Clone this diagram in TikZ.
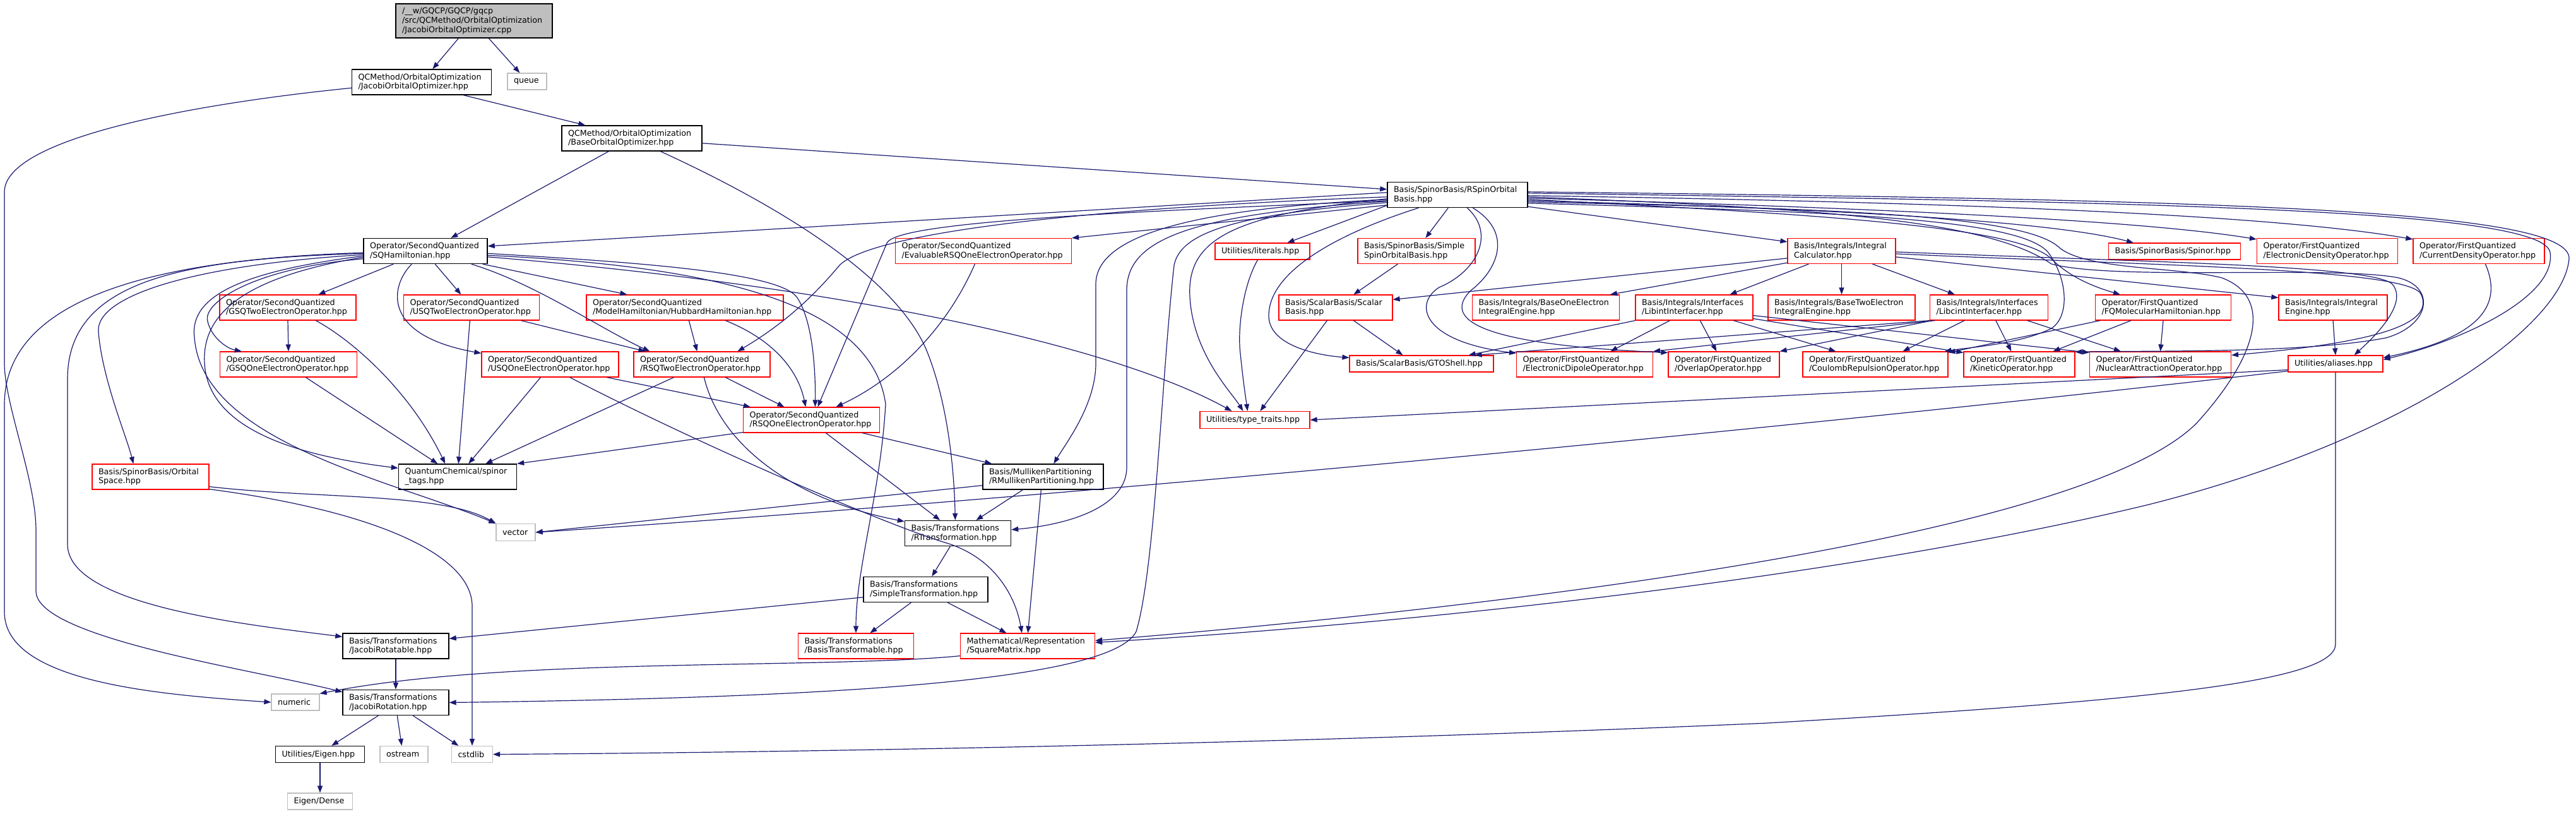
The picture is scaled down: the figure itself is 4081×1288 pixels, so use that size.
\documentclass[tikz,border=0pt]{standalone}
\usepackage{fontspec}
\setmainfont{DejaVu Sans}
\usetikzlibrary{arrows.meta,calc}
\definecolor{edgec}{HTML}{191970}
\definecolor{sysg}{HTML}{BFBFBF}
\definecolor{rb}{HTML}{FF0000}
\newcommand{\gfont}{\fontsize{12.7pt}{14.8pt}\selectfont\hyphenpenalty=10000\exhyphenpenalty=10000\relax}
\tikzset{
  nbase/.style={rectangle, inner xsep=10pt, inner ysep=0pt, minimum height=40pt, align=left, font=\gfont, text=black},
  kbox/.style={nbase, draw=black, line width=1.4pt},
  rbox/.style={nbase, draw=rb, line width=1.2pt},
  gbox/.style={nbase, draw=sysg, line width=1.2pt},
  dep/.style={draw=edgec, line width=1.2pt, -{Triangle[length=11pt,width=8pt]}},
}
\begin{document}
\begin{tikzpicture}[x=1pt,y=-1pt]
\fill[white] (0,0) rectangle (4081,1288);
\useasboundingbox (0,0) rectangle (4081,1288);
% ---------- nodes ----------
\node[kbox, fill=sysg, text width=228pt, minimum height=54pt] (root) at (751,33) {/\_\_w/GQCP/GQCP/gqcp\par /src/QCMethod/OrbitalOptimization\par\centering /JacobiOrbitalOptimizer.cpp};
\node[kbox, text width=201pt] (joo) at (668,130) {QCMethod/OrbitalOptimization\par\centering /JacobiOrbitalOptimizer.hpp};
\node[gbox, text width=42pt, minimum height=26pt] (queue) at (835,129) {\centering queue};
\node[kbox, text width=202pt] (boo) at (1001,219) {QCMethod/OrbitalOptimization\par\centering /BaseOrbitalOptimizer.hpp};
\node[kbox, text width=202pt] (rsob) at (2309,308.5) {Basis/SpinorBasis/RSpinOrbital\par\centering Basis.hpp};
\node[kbox, text width=176pt] (sqh) at (674,397.5) {Operator/SecondQuantized\par\centering /SQHamiltonian.hpp};
\node[rbox, text width=259pt] (evalrsq) at (1558,397.5) {Operator/SecondQuantized\par\centering /EvaluableRSQOneElectronOperator.hpp};
\node[rbox, text width=130pt, minimum height=26pt] (literals) at (2000,398) {\centering Utilities/literals.hpp};
\node[rbox, text width=166pt] (ssob) at (2244,397.5) {Basis/SpinorBasis/Simple\par\centering SpinOrbitalBasis.hpp};
\node[rbox, text width=151pt] (intcalc) at (2917.5,397.5) {Basis/Integrals/Integral\par\centering Calculator.hpp};
\node[rbox, text width=189pt, minimum height=26pt] (spinor) at (3445,398) {\centering Basis/SpinorBasis/Spinor.hpp};
\node[rbox, text width=203pt] (elecdens) at (3687,397.5) {Operator/FirstQuantized\par\centering /ElectronicDensityOperator.hpp};
\node[rbox, text width=188pt] (curdens) at (3927,397.5) {Operator/FirstQuantized\par\centering /CurrentDensityOperator.hpp};
\node[rbox, text width=196pt] (gsq2) at (456,487) {Operator/SecondQuantized\par\centering /GSQTwoElectronOperator.hpp};
\node[rbox, text width=195pt] (usq2) at (747,487) {Operator/SecondQuantized\par\centering /USQTwoElectronOperator.hpp};
\node[rbox, text width=292pt] (hubbard) at (1085,487) {Operator/SecondQuantized\par\centering /ModelHamiltonian/HubbardHamiltonian.hpp};
\node[rbox, text width=160pt] (scalarbasis) at (2116,487) {Basis/ScalarBasis/Scalar\par\centering Basis.hpp};
\node[rbox, text width=213pt] (base1eng) at (2449,487) {Basis/Integrals/BaseOneElectron\par\centering IntegralEngine.hpp};
\node[rbox, text width=166pt] (libint) at (2684,487) {Basis/Integrals/Interfaces\par\centering /LibintInterfacer.hpp};
\node[rbox, text width=213pt] (base2eng) at (2917.5,487) {Basis/Integrals/BaseTwoElectron\par\centering IntegralEngine.hpp};
\node[rbox, text width=167pt] (libcint) at (3151,487) {Basis/Integrals/Interfaces\par\centering /LibcintInterfacer.hpp};
\node[rbox, text width=195pt] (fqmol) at (3427,487) {Operator/FirstQuantized\par\centering /FQMolecularHamiltonian.hpp};
\node[rbox, text width=152pt] (inteng) at (3696,487) {Basis/Integrals/Integral\par\centering Engine.hpp};
\node[rbox, text width=197pt] (gsq1) at (457,577) {Operator/SecondQuantized\par\centering /GSQOneElectronOperator.hpp};
\node[rbox, text width=197pt] (usq1) at (871.5,577) {Operator/SecondQuantized\par\centering /USQOneElectronOperator.hpp};
\node[rbox, text width=196pt] (rsq2) at (1112,577) {Operator/SecondQuantized\par\centering /RSQTwoElectronOperator.hpp};
\node[rbox, text width=208pt, minimum height=26pt] (gto) at (2252,576) {\centering Basis/ScalarBasis/GTOShell.hpp};
\node[rbox, text width=196pt] (dipole) at (2510.5,577) {Operator/FirstQuantized\par\centering /ElectronicDipoleOperator.hpp};
\node[rbox, text width=156pt] (overlap) at (2731,577) {Operator/FirstQuantized\par\centering /OverlapOperator.hpp};
\node[rbox, text width=210pt] (coulomb) at (2971,577) {Operator/FirstQuantized\par\centering /CoulombRepulsionOperator.hpp};
\node[rbox, text width=156pt] (kinetic) at (3199,577) {Operator/FirstQuantized\par\centering /KineticOperator.hpp};
\node[rbox, text width=204pt] (nuclear) at (3422.5,577) {Operator/FirstQuantized\par\centering /NuclearAttractionOperator.hpp};
\node[rbox, text width=130pt, minimum height=26pt] (aliases) at (3700,576) {\centering Utilities/aliases.hpp};
\node[rbox, text width=196pt] (rsq1) at (1285.5,665) {Operator/SecondQuantized\par\centering /RSQOneElectronOperator.hpp};
\node[rbox, text width=154pt, minimum height=27pt] (typetraits) at (1988,665) {\centering Utilities/type\_traits.hpp};
\node[rbox, text width=165pt] (orbspace) at (238.5,755) {Basis/SpinorBasis/Orbital\par\centering Space.hpp};
\node[kbox, text width=167pt] (spinortags) at (725,755) {QuantumChemical/spinor\par\centering \_tags.hpp};
\node[kbox, text width=171pt] (mulliken) at (1652.5,755) {Basis/MullikenPartitioning\par\centering /RMullikenPartitioning.hpp};
\node[gbox, text width=42pt, minimum height=27pt] (vector) at (817,843) {\centering vector};
\node[kbox, text width=148pt] (rtrans) at (1517.5,844.5) {Basis/Transformations\par\centering /RTransformation.hpp};
\node[kbox, text width=177pt] (simpletrans) at (1466.5,933.5) {Basis/Transformations\par\centering /SimpleTransformation.hpp};
\node[kbox, text width=148pt] (jrotatable) at (627,1023) {Basis/Transformations\par\centering /JacobiRotatable.hpp};
\node[rbox, text width=163pt] (btransformable) at (1356,1023) {Basis/Transformations\par\centering /BasisTransformable.hpp};
\node[rbox, text width=193pt] (squarematrix) at (1628,1023) {Mathematical/Representation\par\centering /SquareMatrix.hpp};
\node[gbox, text width=56pt, minimum height=26pt] (numeric) at (468,1112) {\centering numeric};
\node[kbox, text width=148pt] (jrotation) at (627,1112.5) {Basis/Transformations\par\centering /JacobiRotation.hpp};
\node[kbox, text width=121pt, minimum height=26pt] (eigenhpp) at (507,1194.5) {\centering Utilities/Eigen.hpp};
\node[gbox, text width=56pt, minimum height=26pt] (ostream) at (640,1194.5) {\centering ostream};
\node[gbox, text width=45pt, minimum height=26pt] (cstdlib) at (748,1194.5) {\centering cstdlib};
\node[gbox, text width=83pt, minimum height=26pt] (eigendense) at (507,1269) {\centering Eigen/Dense};
% ---------- edges ----------
\draw[dep] ($(root.south west)+(100,0)$) -- ($(joo.north west)+(128.5,0)$);
\draw[dep] ($(root.south west)+(148,0)$) -- ($(queue.north west)+(20,0)$);
\draw[dep] ($(joo.south west)+(177.5,0)$) -- ($(boo.north west)+(38,0)$);
\draw[dep] ($(joo.north west)+(0,30)$) .. controls (300,165) and (7,220) .. (7,304) -- (7,575) .. controls (7,640) and (57,760) .. (57,840) -- (57,936) .. controls (57,1010) and (400,1060) .. ($(jrotation.north west)+(0,4)$);
\draw[dep] ($(sqh.north west)+(0,23.5)$) .. controls (250,410) and (7,470) .. (7,641) -- (7,969) .. controls (7,1080) and (250,1100) .. (numeric.west);
\draw[dep] ($(sqh.north west)+(0,24.5)$) .. controls (300,410) and (107,440) .. (107,600) -- (107,862) .. controls (107,960) and (400,990) .. ($(jrotatable.north west)+(0,6)$);
\draw[dep] ($(sqh.north west)+(0,26.5)$) .. controls (300,420) and (150,470) .. (156,526) .. controls (162,600) and (200,690) .. ($(orbspace.north west)+(66,0)$);
\draw[dep] ($(sqh.north west)+(0,28.5)$) .. controls (380,430) and (300,470) .. (308,534) .. controls (320,700) and (620,760) .. (vector.north west);
\draw[dep] ($(sqh.north west)+(0,30.5)$) .. controls (380,440) and (320,500) .. (324,575) .. controls (330,690) and (500,725) .. ($(spinortags.north west)+(0,7)$);
\draw[dep] ($(sqh.north west)+(0,33)$) .. controls (400,425) and (320,480) .. (329,509) .. controls (335,535) and (360,552) .. ($(gsq1.north west)+(35,0)$);
\draw[dep] ($(sqh.south west)+(48,0)$) -- ($(gsq2.north west)+(157,0)$);
\draw[dep] ($(sqh.south west)+(114,0)$) -- ($(usq2.north west)+(91.5,0)$);
\draw[dep] ($(sqh.south west)+(77,0)$) .. controls (620,450) and (600,530) .. ($(usq1.north west)+(0,3)$);
\draw[dep] ($(sqh.south west)+(171.5,0)$) .. controls (850,450) and (950,520) .. ($(rsq2.north west)+(26,0)$);
\draw[dep] ($(sqh.south east)+(-8,0)$) -- ($(hubbard.north west)+(65,0)$);
\draw[dep] ($(sqh.north east)+(0,24.5)$) .. controls (1000,415) and (1230,430) .. (1262,470) .. controls (1290,510) and (1292,600) .. ($(rsq1.north west)+(114.5,0)$);
\draw[dep] ($(sqh.north east)+(0,27.5)$) .. controls (1100,420) and (1380,470) .. (1403,640) .. controls (1395,780) and (1356,900) .. (btransformable.north);
\draw[dep] ($(sqh.north east)+(0,30)$) .. controls (1300,450) and (1750,540) .. ($(typetraits.north west)+(51,0)$);
\draw[dep] ($(boo.south west)+(75,0)$) -- ($(sqh.north west)+(139,0)$);
\draw[dep] ($(boo.north east)+(0,28.5)$) -- ($(rsob.north west)+(0,12)$);
\draw[dep] ($(boo.south west)+(157,0)$) .. controls (1200,310) and (1420,430) .. (1470,560) .. controls (1505,650) and (1512,760) .. ($(rtrans.north west)+(80.5,0)$);
% RSOB
\draw[dep] ($(rsob.north west)+(0,17)$) -- ($(sqh.north east)+(0,13)$);
\draw[dep] ($(rsob.north west)+(0,37)$) -- (evalrsq.north east);
\draw[dep] ($(rsob.south west)+(0,-4)$) -- ($(literals.north west)+(115,0)$);
\draw[dep] ($(rsob.south west)+(97,0)$) -- ($(ssob.north west)+(108,0)$);
\draw[dep] ($(rsob.south east)+(0,-2)$) -- ($(intcalc.north west)+(0,6)$);
\draw[dep] ($(rsob.south west)+(50,0)$) .. controls (2150,360) and (2010,420) .. (2010,500) .. controls (2010,545) and (2080,562) .. ($(gto.north west)+(0,4)$);
\draw[dep] ($(rsob.north west)+(0,27)$) .. controls (1950,340) and (1880,380) .. (1885,470) .. controls (1890,560) and (1950,620) .. ($(typetraits.north west)+(69,0)$);
\draw[dep] ($(rsob.north west)+(0,24)$) .. controls (1700,330) and (1380,370) .. (1330,420) .. controls (1280,480) and (1230,520) .. ($(rsq2.north west)+(165,0)$);
\draw[dep] ($(rsob.north west)+(0,30)$) .. controls (1800,335) and (1420,350) .. (1405,385) -- ($(rsq1.north west)+(118.5,0)$);
\draw[dep] ($(rsob.north west)+(0,28)$) .. controls (1900,330) and (1736,370) .. (1736,450) -- (1736,575) .. controls (1736,640) and (1690,700) .. ($(mulliken.north west)+(113,0)$);
\draw[dep] ($(rsob.north west)+(0,31)$) .. controls (1880,340) and (1785,380) .. (1785,460) -- (1785,740) .. controls (1785,800) and (1700,830) .. ($(rtrans.north east)+(0,15)$);
\draw[dep] ($(rsob.north west)+(0,33)$) .. controls (1950,340) and (1870,370) .. (1860,420) .. controls (1840,600) and (1830,900) .. (1800,1000) .. controls (1760,1080) and (1300,1105) .. (jrotation.east);
\draw[dep] ($(rsob.north east)+(0,32)$) .. controls (2900,330) and (3200,340) .. (3260,390) .. controls (3300,428) and (3450,422) .. (3520,440) .. controls (3600,470) and (3580,560) .. (3480,670) .. controls (3300,850) and (2400,960) .. ($(squarematrix.north east)+(0,12)$);
\draw[dep] ($(rsob.north east)+(0,16)$) .. controls (3500,316) and (4075,330) .. (4070,410) .. controls (4060,520) and (3800,700) .. (3400,800) .. controls (2900,920) and (2200,990) .. ($(squarematrix.north east)+(0,15)$);
\draw[dep] ($(rsob.north east)+(0,30)$) .. controls (2900,330) and (3250,350) .. ($(spinor.north west)+(40,0)$);
\draw[dep] ($(rsob.north east)+(0,26)$) .. controls (3000,330) and (3400,350) .. ($(elecdens.north west)+(0,2)$);
\draw[dep] ($(rsob.north east)+(0,22)$) .. controls (3100,320) and (3600,340) .. ($(curdens.north west)+(0,2)$);
\draw[dep] ($(rsob.north east)+(0,18)$) .. controls (3400,320) and (4030,330) .. (4040,400) .. controls (4050,470) and (3900,540) .. ($(aliases.north east)+(0,7)$);
\draw[dep] ($(rsob.north east)+(0,28)$) .. controls (2900,340) and (3200,360) .. (3250,410) .. controls (3280,440) and (3320,455) .. ($(fqmol.north west)+(40,0)$);
\draw[dep] ($(rsob.north east)+(0,34)$) .. controls (2900,335) and (3200,345) .. (3245,400) .. controls (3275,440) and (3280,500) .. (3250,520) .. controls (3200,545) and (3120,550) .. ($(coulomb.north east)+(-6,0)$);
\draw[dep] ($(rsob.north east)+(0,24)$) .. controls (2900,330) and (3150,350) .. (3250,418) .. controls (3350,445) and (3700,420) .. (3800,440) .. controls (3860,455) and (3850,515) .. (3780,535) .. controls (3650,560) and (3400,555) .. ($(kinetic.north east)+(0,1)$);
\draw[dep] ($(rsob.south west)+(127,0)$) .. controls (2370,370) and (2340,430) .. (2280,455) .. controls (2240,480) and (2250,540) .. ($(dipole.north west)+(0,3)$);
\draw[dep] ($(rsob.south west)+(136,0)$) .. controls (2400,370) and (2370,430) .. (2330,460) .. controls (2290,500) and (2320,545) .. ($(overlap.north west)+(0,2)$);
% Integral calculator
\draw[dep] ($(intcalc.north west)+(0,32)$) -- ($(scalarbasis.north east)+(0,8)$);
\draw[dep] ($(intcalc.south west)+(0,-2)$) -- ($(base1eng.north west)+(219,0)$);
\draw[dep] ($(intcalc.south west)+(34,0)$) -- ($(libint.north west)+(150,0)$);
\draw[dep] (intcalc.south) -- (base2eng.north);
\draw[dep] ($(intcalc.south west)+(135,0)$) -- ($(libcint.north west)+(40,0)$);
\draw[dep] ($(intcalc.north east)+(0,30)$) -- ($(inteng.north west)+(0,5)$);
\draw[dep] ($(intcalc.north east)+(0,22)$) .. controls (3400,415) and (3760,420) .. (3790,450) .. controls (3815,480) and (3765,530) .. ($(aliases.north east)+(-46,0)$);
\draw[dep] ($(intcalc.north east)+(0,25)$) .. controls (3400,420) and (3810,425) .. (3835,465) .. controls (3855,505) and (3800,540) .. ($(nuclear.north east)+(0,6)$);
% Libint / Libcint
\draw[dep] (libint.south west) -- ($(gto.north east)+(-40,0)$);
\draw[dep] ($(libint.south west)+(55,0)$) -- ($(dipole.north west)+(149.5,0)$);
\draw[dep] ($(libint.south west)+(103,0)$) -- ($(overlap.north west)+(77,0)$);
\draw[dep] ($(libint.south west)+(156,0)$) -- ($(coulomb.north west)+(53,0)$);
\draw[dep] ($(libint.south east)+(0,-3)$) -- ($(kinetic.north west)+(0,2)$);
\draw[dep] ($(libint.south east)+(0,-8)$) -- ($(nuclear.north west)+(0,2)$);
\draw[dep] (libcint.south west) -- ($(gto.north east)+(-30,0)$);
\draw[dep] ($(libcint.south west)+(8,0)$) -- (dipole.north east);
\draw[dep] ($(libcint.south west)+(4,0)$) -- (overlap.north east);
\draw[dep] ($(libcint.south west)+(55,0)$) -- ($(coulomb.north west)+(159,0)$);
\draw[dep] ($(libcint.south west)+(105,0)$) -- ($(kinetic.north west)+(76,0)$);
\draw[dep] ($(libcint.south west)+(155,0)$) -- ($(nuclear.north west)+(50,0)$);
\draw[dep] ($(fqmol.south west)+(8,0)$) -- ($(coulomb.north east)+(0,2)$);
\draw[dep] ($(fqmol.south west)+(57,0)$) -- ($(kinetic.north west)+(142,0)$);
\draw[dep] (fqmol.south) -- (nuclear.north);
\draw[dep] (inteng.south) -- (aliases.north);
\draw[dep] ($(curdens.south west)+(115,0)$) .. controls (3960,470) and (3950,530) .. ($(aliases.north east)+(0,4)$);
\draw[dep] ($(scalarbasis.south west)+(119,0)$) -- ($(gto.north west)+(85,0)$);
\draw[dep] ($(scalarbasis.south west)+(77,0)$) -- ($(typetraits.north west)+(96,0)$);
\draw[dep] ($(ssob.south west)+(64,0)$) -- ($(scalarbasis.north west)+(119,0)$);
\draw[dep] ($(literals.south west)+(68,0)$) .. controls (1970,450) and (1960,520) .. (1965,560) .. controls (1970,610) and (1975,640) .. ($(typetraits.north west)+(76,0)$);
\draw[dep] ($(aliases.south west)+(0,-4)$) -- (typetraits.east);
\draw[dep] ($(aliases.south west)+(0,-2)$) .. controls (3000,660) and (1800,780) .. (vector.east);
\draw[dep] (aliases.south) -- (3700,1020) .. controls (3700,1080) and (3400,1110) .. (2800,1145) .. controls (2000,1180) and (1200,1192) .. (cstdlib.east);
% second quantized block
\draw[dep] (gsq2.south) -- (gsq1.north);
\draw[dep] ($(gsq2.south west)+(153,0)$) .. controls (560,540) and (650,620) .. ($(spinortags.north west)+(74.5,0)$);
\draw[dep] ($(gsq1.south west)+(136.5,0)$) -- ($(spinortags.north west)+(62.5,0)$);
\draw[dep] ($(usq2.south west)+(105.5,0)$) -- ($(spinortags.north west)+(95.5,0)$);
\draw[dep] ($(usq2.south west)+(186.5,0)$) -- ($(rsq2.north west)+(19,0)$);
\draw[dep] ($(usq1.south west)+(94,0)$) -- ($(spinortags.north west)+(111.5,0)$);
\draw[dep] ($(usq1.south east)+(-19,0)$) -- ($(rsq1.north west)+(12,0)$);
\draw[dep] ($(usq1.south west)+(140.5,0)$) .. controls (1100,700) and (1400,830) .. (1500,860) .. controls (1580,885) and (1610,950) .. ($(squarematrix.north west)+(98,0)$);
\draw[dep] ($(rsq2.south west)+(64,0)$) -- ($(spinortags.north east)+(-50,0)$);
\draw[dep] ($(rsq2.south west)+(146,0)$) -- ($(rsq1.north west)+(65.5,0)$);
\draw[dep] ($(rsq2.south west)+(112,0)$) .. controls (1140,700) and (1250,790) .. ($(rtrans.north west)+(0,2)$);
\draw[dep] ($(hubbard.south west)+(163,0)$) -- ($(rsq2.north west)+(101,0)$);
\draw[dep] ($(hubbard.south west)+(221,0)$) .. controls (1230,540) and (1265,590) .. ($(rsq1.north west)+(99.5,0)$);
\draw[dep] ($(rsq1.south west)+(0,-1)$) -- (spinortags.north east);
\draw[dep] ($(rsq1.south east)+(-28,0)$) -- ($(mulliken.north west)+(15,0)$);
\draw[dep] ($(rsq1.south west)+(131.5,0)$) -- ($(rtrans.north west)+(56.5,0)$);
\draw[dep] ($(evalrsq.south west)+(126.5,0)$) .. controls (1500,520) and (1420,600) .. ($(rsq1.north west)+(147.5,0)$);
\draw[dep] ($(mulliken.south west)+(0,-7)$) -- (vector.east);
\draw[dep] ($(mulliken.south west)+(64,0)$) -- ($(rtrans.north west)+(113.5,0)$);
\draw[dep] ($(mulliken.south west)+(93,0)$) -- ($(squarematrix.north west)+(107.5,0)$);
\draw[dep] ($(rtrans.south west)+(72.5,0)$) -- ($(simpletrans.north west)+(109,0)$);
\draw[dep] ($(simpletrans.south west)+(76,0)$) -- ($(btransformable.north west)+(114.5,0)$);
\draw[dep] ($(simpletrans.south west)+(134,0)$) -- ($(squarematrix.north west)+(73.5,0)$);
\draw[dep] ($(simpletrans.north west)+(0,33)$) -- ($(jrotatable.north east)+(0,9)$);
\draw[dep] (jrotatable.south) -- (jrotation.north);
\draw[dep] ($(jrotation.south west)+(57,0)$) -- ($(eigenhpp.north west)+(89.5,0)$);
\draw[dep] ($(jrotation.south west)+(87,0)$) -- ($(ostream.north west)+(35,0)$);
\draw[dep] ($(jrotation.south west)+(112,0)$) -- ($(cstdlib.north west)+(11.5,0)$);
\draw[dep] (eigenhpp.south) -- (eigendense.north);
\draw[dep] ($(orbspace.south east)+(0,-5)$) .. controls (500,790) and (700,780) .. (vector.north west);
\draw[dep] ($(orbspace.south east)+(0,-1)$) .. controls (600,810) and (748,880) .. (748,960) -- (cstdlib.north);
\draw[dep] ($(squarematrix.south west)+(0,-5)$) .. controls (1300,1060) and (800,1040) .. (numeric.north east);
\end{tikzpicture}
\end{document}
